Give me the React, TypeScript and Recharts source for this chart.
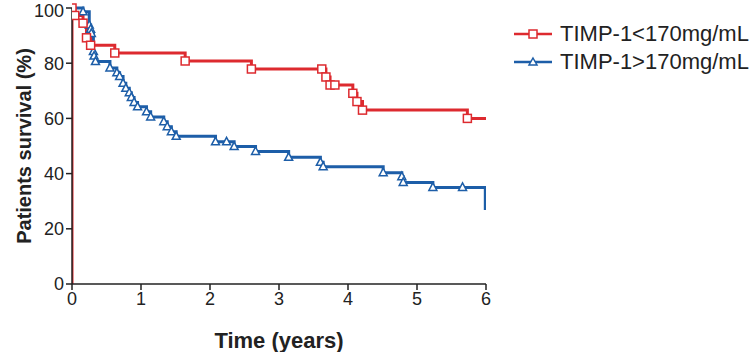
import {Line, LineChart, XAxis, YAxis} from 'recharts';

const xTicks = [0, 1, 2, 3, 4, 5, 6];
const yTicks = [0, 20, 40, 60, 80, 100];

const lowLabel = 'TIMP-1<170mg/mL';
const highLabel = 'TIMP-1>170mg/mL';

// time (years), survival (%), censored mark
const lowTime = [0, 0, 0.04, 0.16, 0.21, 0.27, 0.62, 1.64, 2.6, 3.62, 3.68, 3.74, 3.81, 4.07, 4.13, 4.21, 5.73, 6.0];
const lowSurv = [0, 100, 97.3, 94.5, 89.2, 86.5, 83.7, 80.8, 77.9, 77.9, 75.0, 72.1, 72.1, 69.1, 66.1, 63.0, 60.0, 60.0];
const lowCens = [0, 1, 1, 1, 1, 1, 1, 1, 1, 1, 1, 1, 1, 1, 1, 1, 1, 0];

const highTime = [
  0, 0.16, 0.25, 0.27, 0.28, 0.31, 0.32, 0.34, 0.55, 0.65, 0.69, 0.74, 0.78, 0.83, 0.86, 0.9, 0.95, 1.08, 1.14,
  1.33, 1.38, 1.44, 1.51, 2.08, 2.24, 2.35, 2.66, 3.14, 3.6, 3.64, 4.51, 4.78, 4.8, 5.23, 5.66, 5.99,
];
const highSurv = [
  100, 98.6, 93.8, 92.3, 90.8, 84.2, 82.6, 80.6, 78.3, 76.5, 75.2, 72.7, 70.9, 69.3, 67.6, 65.8, 64.2, 62.4, 60.5,
  58.8, 57.0, 55.2, 53.5, 51.5, 51.5, 49.8, 48.0, 45.9, 44.1, 42.5, 40.3, 38.9, 36.8, 35.0, 35.0, 26.8,
];
const highCens = [
  0, 1, 1, 1, 1, 1, 1, 1, 1, 1, 1, 1, 1, 1, 1, 1, 1, 1, 1, 1, 1, 1, 1, 1, 1, 1, 1, 1, 1, 1, 1, 1, 1, 1, 1, 0,
];

const RED = '#dd2a2f';
const BLUE = '#1d5ea8';
const FONT = '"Liberation Sans", Arial, sans-serif';

const build = (t: number[], s: number[], c: number[]) => t.map((time, i) => ({t: time, s: s[i], c: c[i]}));

const lowData = build(lowTime, lowSurv, lowCens);
const highData = build(highTime, highSurv, highCens);

function SquareDot(props: any) {
  const {cx, cy, payload, index} = props;
  if (!payload.c) return <g key={`sq-${index}`} />;
  return <rect key={`sq-${index}`} x={cx - 4} y={cy - 4} width={8} height={8} fill="#fff" stroke={RED} strokeWidth={1.5} />;
}

function TriDot(props: any) {
  const {cx, cy, payload, index} = props;
  if (!payload.c) return <g key={`tr-${index}`} />;
  return (
    <path
      key={`tr-${index}`}
      d={`M${cx},${cy - 4.5} L${cx + 4},${cy + 3} L${cx - 4},${cy + 3} Z`}
      fill="#fff"
      stroke={BLUE}
      strokeWidth={1.5}
    />
  );
}

function LegendBox() {
  const rows = [
    {label: lowLabel, color: RED, square: true},
    {label: highLabel, color: BLUE, square: false},
  ];
  return (
    <div style={{position: 'absolute', left: 512, top: 20, fontFamily: FONT}}>
      {rows.map((r) => (
        <div key={r.label} style={{display: 'flex', alignItems: 'center', height: 28}}>
          <svg width={44} height={16}>
            <line x1={2} y1={8} x2={40} y2={8} stroke={r.color} strokeWidth={2.5} />
            {r.square ? (
              <rect x={17} y={4} width={8} height={8} fill="#fff" stroke={r.color} strokeWidth={1.5} />
            ) : (
              <path d="M21,4 L25,11 L17,11 Z" fill="#fff" stroke={r.color} strokeWidth={1.5} />
            )}
          </svg>
          <span style={{fontSize: 22, color: '#222', marginLeft: 4, whiteSpace: 'nowrap'}}>{r.label}</span>
        </div>
      ))}
    </div>
  );
}

export default function App() {
  return (
    <div style={{position: 'absolute', left: 0, top: 0, width: 753, height: 352, background: '#fff'}}>
      <LineChart width={753} height={352} margin={{top: 8, right: 267, bottom: 8, left: 22}}>
        <XAxis
          type="number"
          dataKey="t"
          domain={[0, 6]}
          ticks={xTicks}
          allowDataOverflow
          height={60}
          tickSize={6}
          stroke="#222"
          strokeWidth={1.5}
          tick={{fontSize: 18, fill: '#222', fontFamily: FONT}}
          label={{
            value: 'Time (years)',
            position: 'insideBottom',
            offset: -4,
            style: {fontSize: 22, fontWeight: 'bold', fill: '#222', fontFamily: FONT},
          }}
        />
        <YAxis
          type="number"
          dataKey="s"
          domain={[0, 100]}
          ticks={yTicks}
          width={50}
          tickSize={6}
          stroke="#222"
          strokeWidth={1.5}
          tick={{fontSize: 18, fill: '#222', fontFamily: FONT}}
          label={{
            value: 'Patients survival (%)',
            angle: -90,
            position: 'insideLeft',
            offset: 2,
            style: {fontSize: 20, fontWeight: 'bold', fill: '#222', fontFamily: FONT, textAnchor: 'middle'},
          }}
        />
        <Line
          data={highData}
          dataKey="s"
          type="stepAfter"
          stroke={BLUE}
          strokeWidth={3}
          dot={TriDot}
          activeDot={false}
          isAnimationActive={false}
          name={highLabel}
        />
        <Line
          data={lowData}
          dataKey="s"
          type="stepAfter"
          stroke={RED}
          strokeWidth={3}
          dot={SquareDot}
          activeDot={false}
          isAnimationActive={false}
          name={lowLabel}
        />
      </LineChart>
      <LegendBox />
    </div>
  );
}
